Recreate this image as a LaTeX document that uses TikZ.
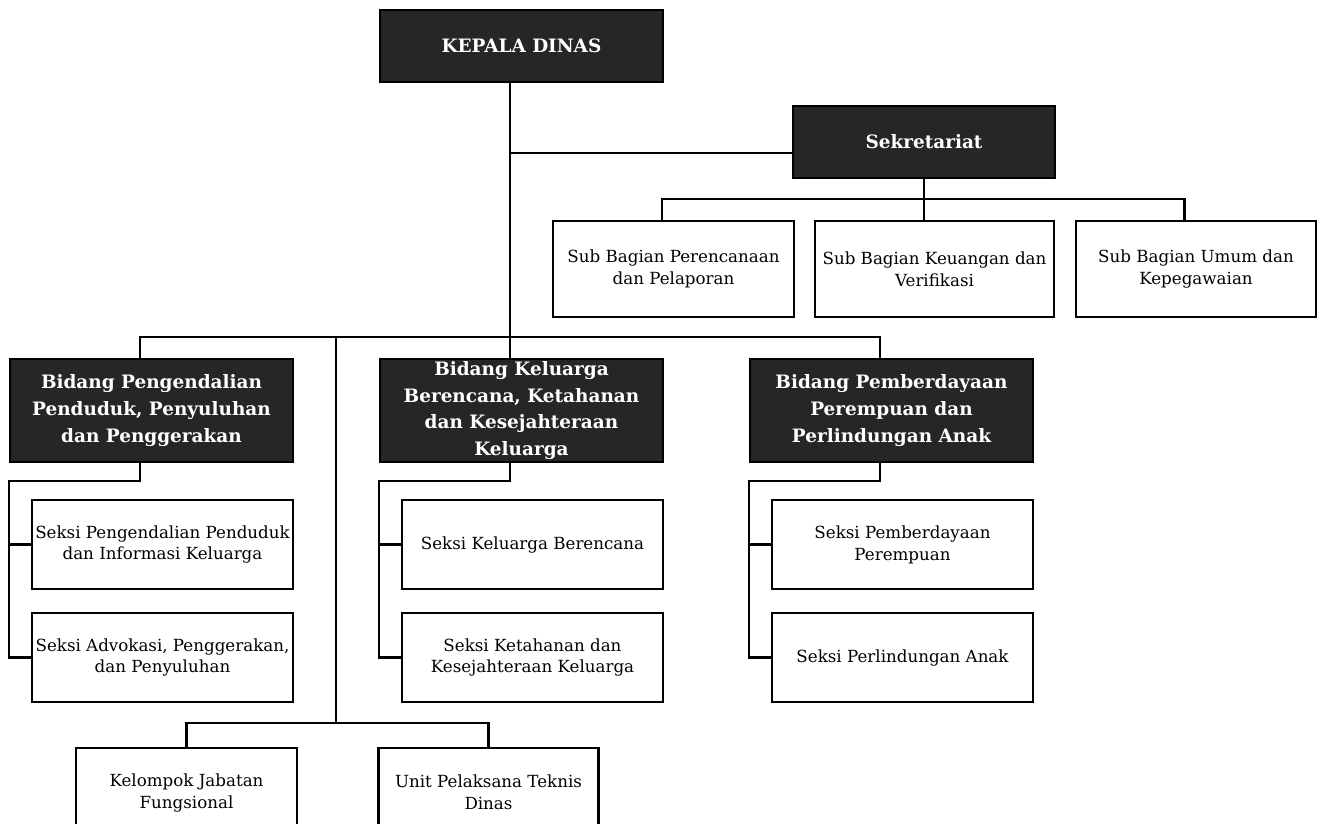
\documentclass[tikz,border=0pt]{standalone}
\usepackage{fontspec}
\setmainfont{DejaVu Serif}
\definecolor{boxdark}{HTML}{262626}

\tikzset{
  link/.style={line width=1.35pt},
  darkbox/.style={draw, line width=1.35pt, fill=boxdark, text=white, align=center, inner sep=0pt,
    font=\fontsize{10.5}{15.3}\selectfont\bfseries},
  plainbox/.style={draw, line width=1.35pt, fill=white, align=center, inner sep=0pt,
    font=\fontsize{9.5}{12.5}\selectfont},
}

\begin{document}
\begin{tikzpicture}[x=0.02cm,y=-0.02cm]
\clip (0,0) rectangle (1319,823);
\useasboundingbox (0,0) rectangle (1319,823);

% Levels of the buses
\coordinate (lvS) at (0,153);
\coordinate (lvSub) at (0,199);
\coordinate (lvBid) at (0,337);
\coordinate (lvSek) at (0,481);
\coordinate (lvBot) at (0,723);
\coordinate (sp2) at (336,0);

% Head
\node[darkbox, minimum width=5.66cm, minimum height=1.44cm] (kepala) at (521.5,46) {KEPALA DINAS};
\node[darkbox, minimum width=5.24cm, minimum height=1.44cm] (sek) at (924,142) {Sekretariat};

% Sub bagian
\node[plainbox, minimum width=4.82cm, minimum height=1.92cm] (sub1) at (673.5,269) {Sub Bagian Perencanaan\\dan Pelaporan};
\node[plainbox, minimum width=4.78cm, minimum height=1.92cm] (sub2) at (934.5,269) {Sub Bagian Keuangan dan\\Verifikasi};
\node[plainbox, minimum width=4.80cm, minimum height=1.92cm] (sub3) at (1196,269) {Sub Bagian Umum dan\\Kepegawaian};

% Bidang
\node[darkbox, minimum width=5.66cm, minimum height=2.06cm] (bidA) at (151.5,410.5) {Bidang Pengendalian\\Penduduk, Penyuluhan\\dan Penggerakan};
\node[darkbox, minimum width=5.66cm, minimum height=2.06cm] (bidB) at (521.5,410.5) {Bidang Keluarga\\Berencana, Ketahanan\\dan Kesejahteraan\\Keluarga};
\node[darkbox, minimum width=5.66cm, minimum height=2.06cm] (bidC) at (891.5,410.5) {Bidang Pemberdayaan\\Perempuan dan\\Perlindungan Anak};

% Seksi
\node[plainbox, minimum width=5.22cm, minimum height=1.78cm] (sA1) at (162.5,544.5) {Seksi Pengendalian Penduduk\\dan Informasi Keluarga};
\node[plainbox, minimum width=5.22cm, minimum height=1.78cm] (sA2) at (162.5,657.5) {Seksi Advokasi, Penggerakan,\\dan Penyuluhan};
\node[plainbox, minimum width=5.22cm, minimum height=1.78cm] (sB1) at (532.5,544.5) {Seksi Keluarga Berencana};
\node[plainbox, minimum width=5.22cm, minimum height=1.78cm] (sB2) at (532.5,657.5) {Seksi Ketahanan dan\\Kesejahteraan Keluarga};
\node[plainbox, minimum width=5.22cm, minimum height=1.78cm] (sC1) at (902.5,544.5) {Seksi Pemberdayaan\\Perempuan};
\node[plainbox, minimum width=5.22cm, minimum height=1.78cm] (sC2) at (902.5,657.5) {Seksi Perlindungan Anak};

% Bottom
\node[plainbox, anchor=north, minimum width=4.42cm, minimum height=1.78cm] (kel) at (186.5,747) {Kelompok Jabatan\\Fungsional};
\node[plainbox, anchor=north, minimum width=4.40cm, minimum height=1.78cm] (upt) at (488.5,747) {Unit Pelaksana Teknis\\Dinas};

% Trunk and sekretariat
\coordinate (trunk) at ([xshift=-0.23cm]kepala.south);
\draw[link] (trunk) -- ([xshift=-0.23cm]bidB.north);
\draw[link] (trunk |- lvS) -- (sek.west |- lvS);
\draw[link] (sek.south) -- (sek.south |- sub2.north);
\draw[link] ([xshift=-0.23cm]sub1.north) |- (sek.south |- lvSub) -| ([xshift=-0.23cm]sub3.north);

% Bidang bus
\draw[link] ([xshift=-0.23cm]bidA.north) |- (sp2 |- lvBid) -| ([xshift=-0.23cm]bidC.north);

% Seksi branches
\foreach \c in {A,B,C} {
  \draw[link] ([xshift=-0.23cm]bid\c.south) |- (bid\c.west |- lvSek) |- (s\c2.west);
  \draw[link] (bid\c.west |- s\c1.west) -- (s\c1.west);
}

% Bottom bus
\draw[link] (sp2 |- lvBid) -- (sp2 |- lvBot);
\draw[link] (kel.north) |- (sp2 |- lvBot) -| (upt.north);

\end{tikzpicture}
\end{document}
